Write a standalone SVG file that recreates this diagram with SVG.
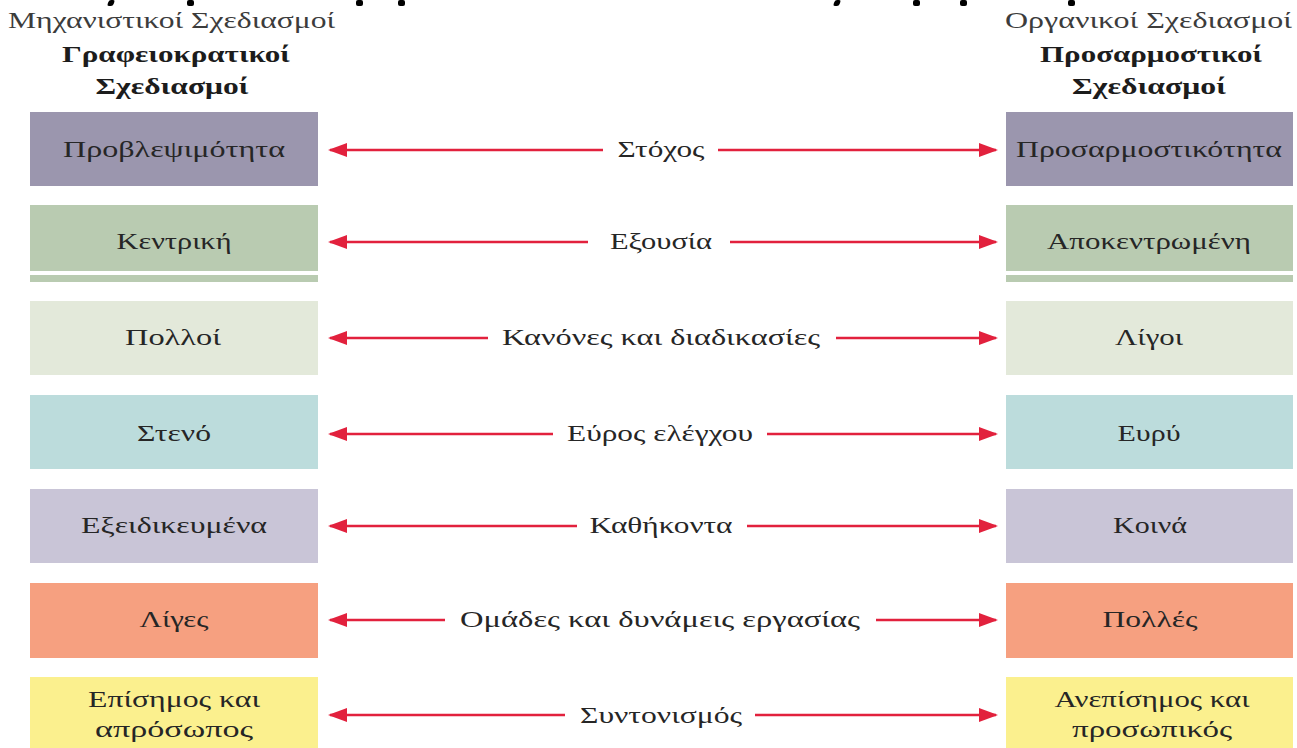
<svg xmlns="http://www.w3.org/2000/svg" width="1297" height="748" viewBox="0 0 1297 748">
<defs>
<style>
.t{font-family:"Liberation Serif","Times New Roman",serif;font-size:23px;fill:#262626;text-anchor:middle}
.h{font-family:"Liberation Serif","Times New Roman",serif;font-size:23px;fill:#3c3c3c}
.hb{font-family:"Liberation Serif","Times New Roman",serif;font-size:23px;font-weight:bold;fill:#1c1c1c;text-anchor:middle}
.c{stroke:#e2213d;stroke-width:2.5;fill:none;marker-end:url(#ah)}
.frag{fill:#000}
</style>
<marker id="ah" markerUnits="userSpaceOnUse" markerWidth="20" markerHeight="14" refX="17" refY="7" orient="auto">
<path d="M0,0 L19,7 L0,14 Z" fill="#e2213d"/>
</marker>
</defs>
<rect width="1297" height="748" fill="#fff"/>
<g id="top-fragments">
<rect class="frag" x="108" y="0" width="6" height="6" rx="2" transform="skewX(-20)" transform-origin="111 3"/>
<rect class="frag" x="187" y="0" width="7" height="6" rx="2"/>
<rect class="frag" x="356" y="0" width="7" height="6" rx="2"/>
<rect class="frag" x="398" y="0" width="7" height="6" rx="2"/>
<rect class="frag" x="834" y="0" width="6" height="6" rx="2" transform="skewX(-20)" transform-origin="837 3"/>
<rect class="frag" x="913" y="0" width="7" height="6" rx="2"/>
<rect class="frag" x="960" y="0" width="7" height="6" rx="2"/>
<rect class="frag" x="1068" y="0" width="7" height="6" rx="2"/>
</g>
<g id="header-left">
<text class="h" x="8" y="28" textLength="327" lengthAdjust="spacingAndGlyphs">Μηχανιστικοί Σχεδιασμοί</text>
<text class="hb" x="176" y="62" textLength="228" lengthAdjust="spacingAndGlyphs">Γραφειοκρατικοί</text>
<text class="hb" x="172" y="94" textLength="153" lengthAdjust="spacingAndGlyphs">Σχεδιασμοί</text>
</g>
<g id="header-right">
<text class="h" x="1005" y="28" textLength="287" lengthAdjust="spacingAndGlyphs">Οργανικοί Σχεδιασμοί</text>
<text class="hb" x="1151" y="62" textLength="222" lengthAdjust="spacingAndGlyphs">Προσαρμοστικοί</text>
<text class="hb" x="1149" y="94" textLength="154" lengthAdjust="spacingAndGlyphs">Σχεδιασμοί</text>
</g>
<g id="left-1"><rect x="30" y="112" width="288" height="74" fill="#9b96ae"/><text class="t" x="174" y="157" textLength="222" lengthAdjust="spacingAndGlyphs">Προβλεψιμότητα</text></g>
<g id="right-1"><rect x="1006" y="112" width="287" height="74" fill="#9b96ae"/><text class="t" x="1149" y="157" textLength="266" lengthAdjust="spacingAndGlyphs">Προσαρμοστικότητα</text></g>
<g id="left-2"><rect x="30" y="205" width="288" height="66" fill="#b9cbb1"/><rect x="30" y="275" width="288" height="7" fill="#b9cbb1"/><text class="t" x="174" y="249" textLength="115" lengthAdjust="spacingAndGlyphs">Κεντρική</text></g>
<g id="right-2"><rect x="1006" y="205" width="287" height="66" fill="#b9cbb1"/><rect x="1006" y="275" width="287" height="7" fill="#b9cbb1"/><text class="t" x="1149" y="249" textLength="204" lengthAdjust="spacingAndGlyphs">Αποκεντρωμένη</text></g>
<g id="left-3"><rect x="30" y="301" width="288" height="74" fill="#e3e9da"/><text class="t" x="173" y="345" textLength="96" lengthAdjust="spacingAndGlyphs">Πολλοί</text></g>
<g id="right-3"><rect x="1006" y="301" width="287" height="74" fill="#e3e9da"/><text class="t" x="1149" y="345" textLength="68" lengthAdjust="spacingAndGlyphs">Λίγοι</text></g>
<g id="left-4"><rect x="30" y="395" width="288" height="74" fill="#bcdcdc"/><text class="t" x="174" y="441" textLength="74" lengthAdjust="spacingAndGlyphs">Στενό</text></g>
<g id="right-4"><rect x="1006" y="395" width="287" height="74" fill="#bcdcdc"/><text class="t" x="1149" y="441" textLength="63" lengthAdjust="spacingAndGlyphs">Ευρύ</text></g>
<g id="left-5"><rect x="30" y="489" width="288" height="74" fill="#c9c5d7"/><text class="t" x="174" y="533" textLength="186" lengthAdjust="spacingAndGlyphs">Εξειδικευμένα</text></g>
<g id="right-5"><rect x="1006" y="489" width="287" height="74" fill="#c9c5d7"/><text class="t" x="1150" y="533" textLength="74" lengthAdjust="spacingAndGlyphs">Κοινά</text></g>
<g id="left-6"><rect x="30" y="583" width="288" height="75" fill="#f6a080"/><text class="t" x="174" y="627" textLength="69" lengthAdjust="spacingAndGlyphs">Λίγες</text></g>
<g id="right-6"><rect x="1006" y="583" width="287" height="75" fill="#f6a080"/><text class="t" x="1150" y="627" textLength="95" lengthAdjust="spacingAndGlyphs">Πολλές</text></g>
<g id="left-7"><rect x="30" y="677" width="288" height="71" fill="#fbf08e"/><text class="t" x="174" y="707" textLength="172" lengthAdjust="spacingAndGlyphs">Επίσημος και</text><text class="t" x="174" y="737" textLength="158" lengthAdjust="spacingAndGlyphs">απρόσωπος</text></g>
<g id="right-7"><rect x="1006" y="677" width="287" height="71" fill="#fbf08e"/><text class="t" x="1152" y="707" textLength="195" lengthAdjust="spacingAndGlyphs">Ανεπίσημος και</text><text class="t" x="1152" y="737" textLength="160" lengthAdjust="spacingAndGlyphs">προσωπικός</text></g>
<g id="connectors">
<line class="c" x1="603" y1="150" x2="330" y2="150"/><line class="c" x1="718" y1="150" x2="996" y2="150"/>
<line class="c" x1="588" y1="242" x2="330" y2="242"/><line class="c" x1="730" y1="242" x2="996" y2="242"/>
<line class="c" x1="488" y1="338" x2="330" y2="338"/><line class="c" x1="836" y1="338" x2="996" y2="338"/>
<line class="c" x1="553" y1="434" x2="330" y2="434"/><line class="c" x1="767" y1="434" x2="996" y2="434"/>
<line class="c" x1="577" y1="526" x2="330" y2="526"/><line class="c" x1="747" y1="526" x2="996" y2="526"/>
<line class="c" x1="445" y1="620" x2="330" y2="620"/><line class="c" x1="876" y1="620" x2="996" y2="620"/>
<line class="c" x1="565" y1="715" x2="330" y2="715"/><line class="c" x1="755" y1="715" x2="996" y2="715"/>
</g>
<g id="labels">
<text class="t" x="661" y="157" textLength="87" lengthAdjust="spacingAndGlyphs">Στόχος</text>
<text class="t" x="661" y="249" textLength="102" lengthAdjust="spacingAndGlyphs">Εξουσία</text>
<text class="t" x="661" y="345" textLength="318" lengthAdjust="spacingAndGlyphs">Κανόνες και διαδικασίες</text>
<text class="t" x="660" y="441" textLength="186" lengthAdjust="spacingAndGlyphs">Εύρος ελέγχου</text>
<text class="t" x="661" y="533" textLength="143" lengthAdjust="spacingAndGlyphs">Καθήκοντα</text>
<text class="t" x="660" y="627" textLength="400" lengthAdjust="spacingAndGlyphs">Ομάδες και δυνάμεις εργασίας</text>
<text class="t" x="661" y="723" textLength="162" lengthAdjust="spacingAndGlyphs">Συντονισμός</text>
</g>
</svg>
